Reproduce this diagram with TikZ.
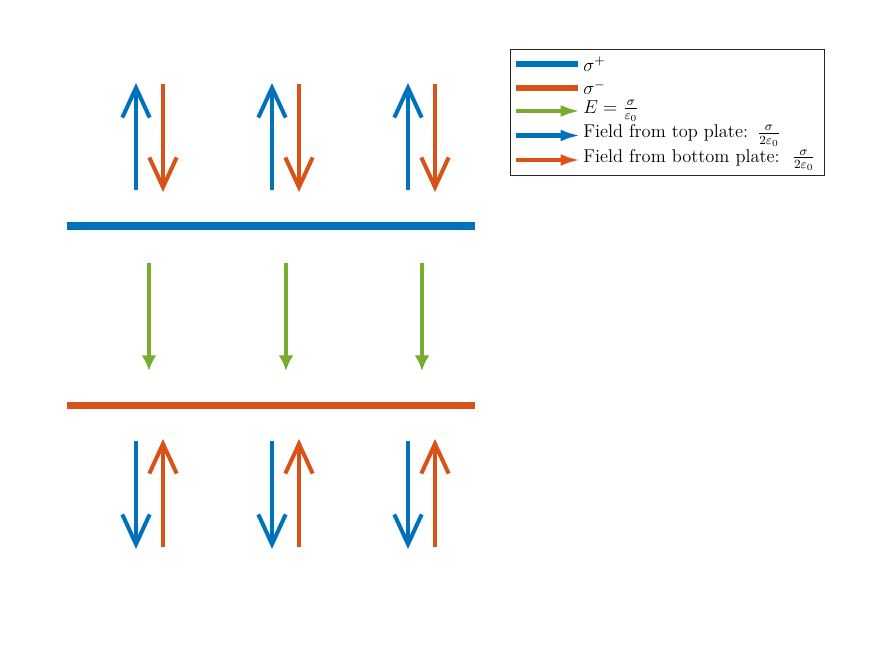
\documentclass[tikz,border=0pt]{standalone}
\usepackage{amsmath}
\usetikzlibrary{arrows.meta}
\definecolor{mblue}{RGB}{0,114,189}
\definecolor{morange}{RGB}{217,83,25}
\definecolor{mgreen}{RGB}{119,172,48}
\tikzset{
  plate/.style={line width=4.5pt},
  halffield/.style={line width=2.6pt, -{Straight Barb[length=19pt,width=17.5pt,sharp]}},
  fullfield/.style={line width=2.6pt, -{Latex[length=10pt,width=9.5pt]}},
  legline/.style={line width=4pt},
  legarrow/.style={line width=2.6pt, -{Latex[length=13pt,width=7.5pt]}},
  legtext/.style={anchor=west, inner sep=0pt, font=\fontsize{11.8}{13}\selectfont},
}
\begin{document}
\begin{tikzpicture}[x=0.64pt,y=-0.64pt]
\useasboundingbox (0,0) rectangle (874,655);
% plates
\coordinate (tpL) at (67,226); \coordinate (tpR) at (475,226);
\coordinate (bpL) at (67,405.5); \coordinate (bpR) at (475,405.5);
\draw[plate, mblue] (tpL) -- (tpR);
\draw[plate, morange] (bpL) -- (bpR);
% columns
\foreach \i/\xb/\xo/\xg in {1/136/163/149, 2/272/299/286, 3/408/435/422} {
  % above top plate
  \coordinate (ub\i s) at (\xb,190); \coordinate (ub\i e) at (\xb,83);
  \coordinate (uo\i s) at (\xo,84);  \coordinate (uo\i e) at (\xo,192);
  \draw[halffield, mblue] (ub\i s) -- (ub\i e);
  \draw[halffield, morange] (uo\i s) -- (uo\i e);
  % between plates
  \coordinate (g\i s) at (\xg,263); \coordinate (g\i e) at (\xg,371);
  \draw[fullfield, mgreen] (g\i s) -- (g\i e);
  % below bottom plate
  \coordinate (db\i s) at (\xb,441); \coordinate (db\i e) at (\xb,549);
  \coordinate (do\i s) at (\xo,547); \coordinate (do\i e) at (\xo,439);
  \draw[halffield, mblue] (db\i s) -- (db\i e);
  \draw[halffield, morange] (do\i s) -- (do\i e);
}
% legend
\node[draw=black!85, line width=0.5pt, inner sep=0pt, minimum width=314*0.64pt, minimum height=126*0.64pt, anchor=north west] (leg) at (510,49.3) {};
\coordinate (l1a) at (516,64.3);  \coordinate (l1b) at (578,64.3);
\coordinate (l2a) at (516,87.7);  \coordinate (l2b) at (578,87.7);
\coordinate (l3a) at (516,111);   \coordinate (l3b) at (581,111);
\coordinate (l4a) at (516,135.5); \coordinate (l4b) at (581,135.5);
\coordinate (l5a) at (516,160);   \coordinate (l5b) at (581,160);
\draw[legline, mblue] (l1a) -- (l1b);
\draw[legline, morange] (l2a) -- (l2b);
\draw[legarrow, mgreen] (l3a) -- (l3b);
\draw[legarrow, mblue] (l4a) -- (l4b);
\draw[legarrow, morange] (l5a) -- (l5b);
\node[legtext] (t1) at (583,64.3) {$\sigma^{+}$};
\node[legtext] (t2) at (583,87.7) {$\sigma^{-}$};
\node[legtext] (t3) at (583,111) {$E=\tfrac{\sigma}{\varepsilon_0}$};
\node[legtext] (t4) at (583,135.5) {Field from top plate:\hspace{6pt}$\tfrac{\sigma}{2\varepsilon_0}$};
\node[legtext] (t5) at (583,160) {Field from bottom plate:\hspace{8pt}$\tfrac{\sigma}{2\varepsilon_0}$};
\end{tikzpicture}
\end{document}
